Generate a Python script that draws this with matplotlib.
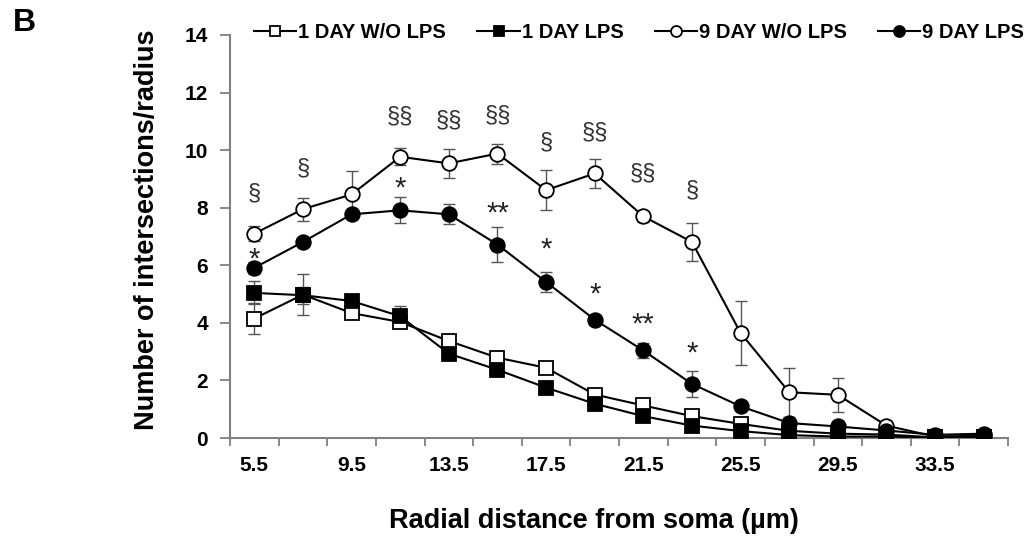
import matplotlib.pyplot as plt
import numpy as np
import matplotlib as mpl

mpl.rcParams.update({
    'font.family': ['Liberation Sans', 'DejaVu Sans'],
    'font.weight': 'bold',
    'font.size': 12,
})

# Data
radius = ['5.5', '7.5', '9.5', '11.5', '13.5', '15.5', '17.5', '19.5',
          '21.5', '23.5', '25.5', '27.5', '29.5', '31.5', '33.5', '35.5']

day1_wo = [4.15, 4.98, 4.34, 4.03, 3.37, 2.79, 2.44, 1.51,
           1.13, 0.76, 0.49, 0.25, 0.15, 0.12, 0.02, 0.02]
day1_wo_err = [0.55, 0.70, 0.15, 0.15, 0.10, 0.10, 0.10, 0.10,
               0.08, 0.08, 0.06, 0.05, 0.05, 0.04, 0.02, 0.02]

day1_lps = [5.04, 4.96, 4.76, 4.23, 2.93, 2.37, 1.75, 1.19,
            0.76, 0.43, 0.24, 0.10, 0.05, 0.05, 0.02, 0.02]
day1_lps_err = [0.40, 0.30, 0.15, 0.37, 0.12, 0.10, 0.12, 0.08,
                0.06, 0.05, 0.05, 0.04, 0.03, 0.03, 0.02, 0.02]

day9_wo = [7.10, 7.95, 8.46, 9.77, 9.54, 9.88, 8.61, 9.19,
           7.70, 6.81, 3.65, 1.59, 1.50, 0.43, 0.05, 0.08]
day9_wo_err = [0.27, 0.40, 0.80, 0.30, 0.50, 0.35, 0.70, 0.50,
               0.20, 0.65, 1.10, 0.85, 0.58, 0.10, 0.04, 0.04]

day9_lps = [5.91, 6.81, 7.77, 7.91, 7.77, 6.72, 5.42, 4.11,
            3.04, 1.88, 1.10, 0.52, 0.40, 0.26, 0.11, 0.15]
day9_lps_err = [0.20, 0.15, 0.15, 0.45, 0.35, 0.60, 0.35, 0.15,
                0.25, 0.44, 0.12, 0.15, 0.10, 0.08, 0.05, 0.05]

# significance marks (category index, label, y)
sect_idx = [0, 1, 3, 4, 5, 6, 7, 8, 9]
sect_lab = ['§', '§', '§§', '§§', '§§', '§', '§§', '§§', '§']
sect_y = [8.5, 9.37, 11.18, 11.04, 11.2, 10.26, 10.6, 9.2, 8.6]

star_idx = [0, 3, 5, 6, 7, 8, 9]
star_lab = ['*', '*', '**', '*', '*', '**', '*']
star_y = [6.2, 8.65, 7.8, 6.55, 5.0, 3.95, 2.95]

x = np.arange(len(radius))

fig = plt.figure(figsize=(10.29, 5.37), dpi=100)
ax = fig.add_axes([230/1029, 99/537, 778/1029, 403/537])

series = [
    (day1_wo, day1_wo_err, 's', 'white', '1 DAY W/O LPS'),
    (day1_lps, day1_lps_err, 's', 'black', '1 DAY LPS'),
    (day9_wo, day9_wo_err, 'o', 'white', '9 DAY W/O LPS'),
    (day9_lps, day9_lps_err, 'o', 'black', '9 DAY LPS'),
]
handles = []
for vals, err, mk, fc, lab in series:
    ax.errorbar(x, vals, yerr=err, fmt='none', ecolor='#555555',
                elinewidth=1.0, capsize=4, capthick=1.0, zorder=2)
    h, = ax.plot(x, vals, color='black', lw=1.5, marker=mk, markersize=10.5,
                 markerfacecolor=fc, markeredgecolor='black',
                 markeredgewidth=1.3, label=lab, zorder=3)
    handles.append(h)

for i, lab, yy in zip(sect_idx, sect_lab, sect_y):
    ax.text(x[i], yy, lab, ha='center', va='center', fontsize=17,
            fontweight='normal', color='#333333')
for i, lab, yy in zip(star_idx, star_lab, star_y):
    ax.text(x[i], yy, lab, ha='center', va='center', fontsize=21,
            fontweight='normal', color='#222222')

ax.set_xlim(-0.5, len(radius) - 0.5)
ax.set_ylim(0, 14)
ax.set_yticks(np.arange(0, 15, 2))
ax.set_xticks(np.arange(-0.5, len(radius), 1.0))
ax.set_xticklabels([])
ax.set_xticks(x[::2], minor=True)
ax.set_xticklabels(radius[::2], minor=True)
ax.tick_params(axis='x', which='minor', length=0, pad=13, labelsize=15)
ax.tick_params(axis='x', which='major', length=6, width=1.3, color='#808080', direction='out')
ax.tick_params(axis='y', length=7, width=1.3, color='#808080', direction='out', labelsize=15, pad=9)

for s in ['top', 'right']:
    ax.spines[s].set_visible(False)
for s in ['left', 'bottom']:
    ax.spines[s].set_color('#808080')
    ax.spines[s].set_linewidth(1.5)

ax.set_xlabel('Radial distance from soma (µm)', fontsize=19.5, fontweight='bold', va='center')
ax.xaxis.set_label_coords(0.468, -0.205)
ax.set_ylabel('Number of intersections/radius', fontsize=19.5, fontweight='bold', va='center')
ax.yaxis.set_label_coords(-0.107, 0.516)

leg = ax.legend(handles=handles, loc='center left', bbox_to_anchor=(0.031, 1.007),
                ncol=4, frameon=False, fontsize=14.5, markerscale=0.75,
                handlelength=2.1, handletextpad=0.1, columnspacing=1.55,
                borderaxespad=0, borderpad=0)

fig.text(24/1029, 1 - 23/537, 'B', fontsize=23, fontweight='bold', ha='center', va='center')

plt.savefig('out.png', dpi=100)
plt.close()
